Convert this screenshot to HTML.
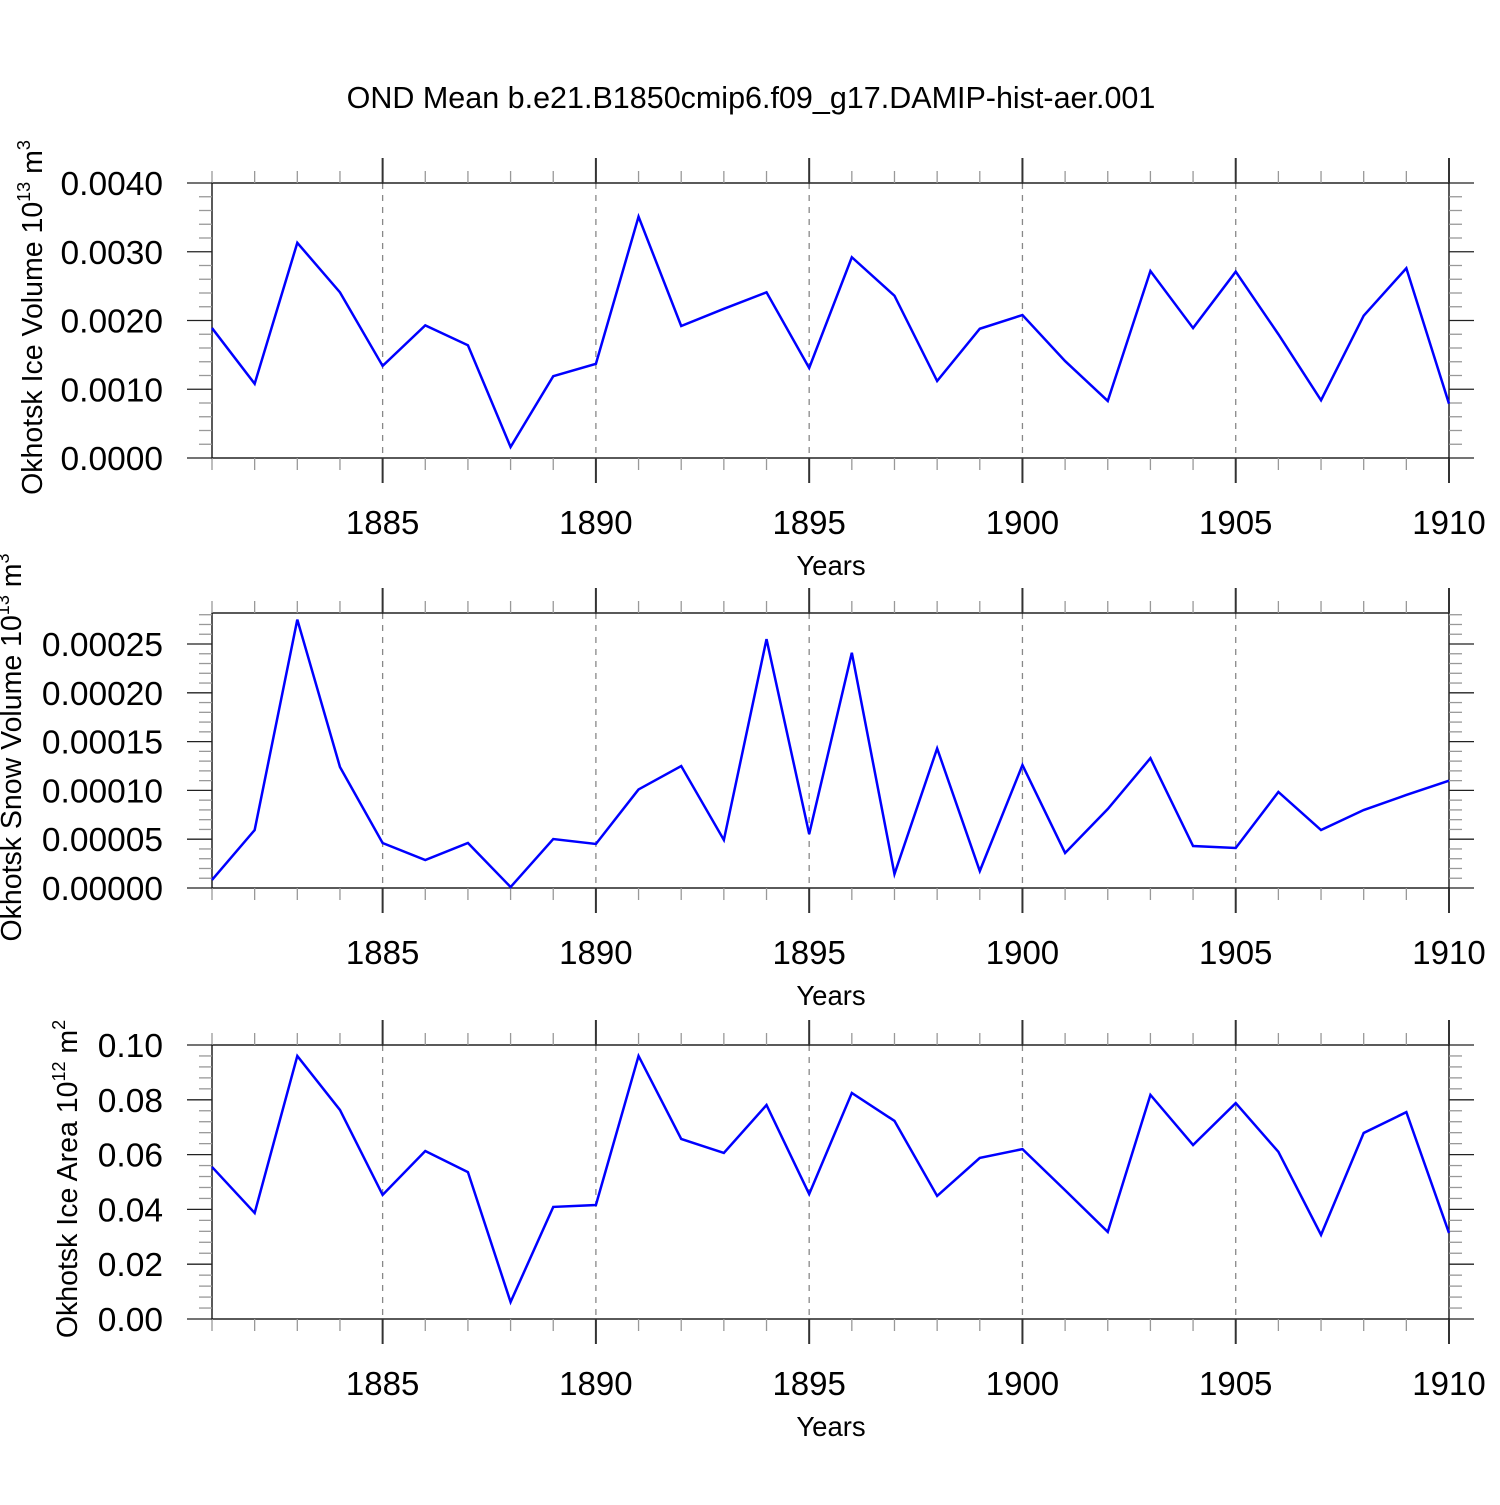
<!DOCTYPE html>
<html><head><meta charset="utf-8">
<style>
body{margin:0;background:#fff}
svg text{font-family:"Liberation Sans",sans-serif;fill:#000}
</style></head><body>
<svg id="chart" width="1500" height="1500" viewBox="0 0 1500 1500" xmlns="http://www.w3.org/2000/svg">
<text x="751" y="108" font-size="30.5" text-anchor="middle">OND Mean b.e21.B1850cmip6.f09_g17.DAMIP-hist-aer.001</text>
<g id="plots"></g>
</svg>
<script>
const years = [1881,1882,1883,1884,1885,1886,1887,1888,1889,1890,1891,1892,1893,1894,1895,1896,1897,1898,1899,1900,1901,1902,1903,1904,1905,1906,1907,1908,1909,1910];
const iceVolume = [0.00189,0.00108,0.00313,0.00241,0.00134,0.00193,0.00164,0.00016,0.00119,0.00137,0.00351,0.00192,0.00217,0.00241,0.00131,0.00292,0.00236,0.00112,0.00188,0.00208,0.00141,0.00083,0.00272,0.00189,0.00271,0.00180,0.00084,0.00207,0.00276,0.00079];
const snowVolume = [0.0000082,0.0000594,0.000275,0.000124,0.0000461,0.0000287,0.0000461,0.000001,0.0000502,0.0000451,0.000101,0.000125,0.0000492,0.000255,0.0000553,0.000241,0.0000143,0.000143,0.0000174,0.000126,0.0000359,0.0000809,0.000133,0.000043,0.000041,0.0000984,0.0000594,0.0000799,0.0000953,0.000110];
const iceArea = [0.0555,0.0387,0.096,0.0763,0.0453,0.0613,0.0536,0.0062,0.0409,0.0416,0.096,0.0657,0.0606,0.0781,0.0456,0.0825,0.0723,0.0449,0.0588,0.062,0.047,0.0318,0.0818,0.0635,0.0788,0.061,0.0307,0.0679,0.0755,0.0314];
const xTickLabels = ["1885","1890","1895","1900","1905","1910"];
const iceVolTicks = ["0.0000","0.0010","0.0020","0.0030","0.0040"];
const snowVolTicks = ["0.00000","0.00005","0.00010","0.00015","0.00020","0.00025"];
const iceAreaTicks = ["0.00","0.02","0.04","0.06","0.08","0.10"];

const NS="http://www.w3.org/2000/svg";
const root=document.getElementById('plots');
const X0=212,X1=1449,YR0=1881,YR1=1910;
const xs=v=>X0+(v-YR0)/(YR1-YR0)*(X1-X0);
function mk(tag,attrs,parent){const e=document.createElementNS(NS,tag);for(const k in attrs)e.setAttribute(k,attrs[k]);(parent||root).appendChild(e);return e;}

const panels=[
 {name:'ice-volume',top:183,bottom:458,zeroY:458,unit:0.004/275,data:iceVolume,ticks:iceVolTicks,step:0.001,title:'Okhotsk Ice Volume 10',sup:'13',tail:' m',sup2:'3',tx:42},
 {name:'snow-volume',top:613,bottom:888,zeroY:888,unit:0.00005/48.8,data:snowVolume,ticks:snowVolTicks,step:0.00005,title:'Okhotsk Snow Volume 10',sup:'13',tail:' m',sup2:'3',tx:21},
 {name:'ice-area',top:1045,bottom:1319,zeroY:1319,unit:0.1/274,data:iceArea,ticks:iceAreaTicks,step:0.02,title:'Okhotsk Ice Area 10',sup:'12',tail:' m',sup2:'2',tx:77}
];
panels.forEach(p=>{
 const g=mk('g',{});
 
 
 const ys=v=>p.zeroY-v/p.unit;
 xTickLabels.forEach(t=>{const x=xs(+t);if(x<X1-1){const l=mk('line',{x1:x,x2:x,y1:p.top,y2:p.bottom,stroke:'#888','stroke-width':1.3,'stroke-dasharray':'6,6'},g);}});
 const fr=mk('rect',{x:X0,y:p.top,width:X1-X0,height:p.bottom-p.top,fill:'none',stroke:'#000','stroke-width':1.3},g);
 
 years.forEach(yr=>{const x=xs(yr);const major=yr%5===0;const len=major?25:12;const c=major?'#333':'#999';
  mk('line',{x1:x,x2:x,y1:p.top,y2:p.top-len,stroke:c,'stroke-width':major?2:1.3},g);
  mk('line',{x1:x,x2:x,y1:p.bottom,y2:p.bottom+len,stroke:c,'stroke-width':major?2:1.3},g);
 });
 xTickLabels.forEach(t=>{const tx=mk('text',{x:xs(+t),y:p.bottom+76,'font-size':33,'text-anchor':'middle'},g);tx.textContent=t;});
 const xt=mk('text',{x:831,y:p.bottom+117,'font-size':27.5,'text-anchor':'middle'},g);xt.textContent='Years';
 
 const maxV=(p.zeroY-p.top)*p.unit;
 for(let i=0;;i++){const v=i*p.step/5;if(v>maxV+1e-12)break;const y=ys(v);const major=i%5===0;const len=major?25:13;const c=major?'#222':'#999';
  mk('line',{x1:X0,x2:X0-len,y1:y,y2:y,stroke:c,'stroke-width':1.3},g);
  mk('line',{x1:X1,x2:X1+len,y1:y,y2:y,stroke:c,'stroke-width':1.3},g);
 }
 p.ticks.forEach((t,i)=>{const tx=mk('text',{x:163,y:ys(i*p.step)+12,'font-size':33.5,'text-anchor':'end'},g);tx.textContent=t;});
 const cy=(p.top+p.bottom)/2-3;
 const yt=mk('text',{x:p.tx,y:cy,'font-size':28.5,'text-anchor':'middle',transform:`rotate(-90 ${p.tx} ${cy})`},g);
 
 const s1=document.createElementNS(NS,'tspan');s1.textContent=p.title;yt.appendChild(s1);
 const s2=document.createElementNS(NS,'tspan');s2.setAttribute('font-size','18');s2.setAttribute('dy','-12');s2.textContent=p.sup;yt.appendChild(s2);
 const s3=document.createElementNS(NS,'tspan');s3.setAttribute('dy','12');s3.textContent=p.tail;yt.appendChild(s3);
 const s4=document.createElementNS(NS,'tspan');s4.setAttribute('font-size','18');s4.setAttribute('dy','-12');s4.textContent=p.sup2;yt.appendChild(s4);
 const pts=p.data.map((v,i)=>xs(years[i])+','+ys(v)).join(' ');
 const pl=mk('polyline',{points:pts,fill:'none',stroke:'#0000ff','stroke-width':2.5,'stroke-linejoin':'miter'},g);
 
});
</script>
</body></html>
